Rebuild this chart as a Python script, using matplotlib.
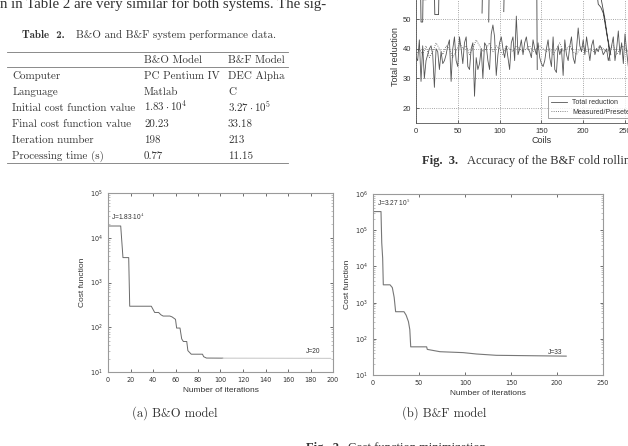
import numpy as np
import matplotlib
matplotlib.use("Agg")
import matplotlib.pyplot as plt
from matplotlib.lines import Line2D
from matplotlib.ticker import LogLocator, NullFormatter

plt.rcParams['mathtext.fontset'] = 'cm'

W, H = 628, 446

# ---------------- data ----------------
# Table 2
table_cols = ["", "B&O Model", "B&F Model"]
table_rows = ["Computer", "Language", "Initial cost function value",
              "Final cost function value", "Iteration number", "Processing time (s)"]
bo_values = ["PC Pentium IV", "Matlab", r"$1.83\cdot10^4$", "20.23", "198", "0.77"]
bf_values = ["DEC Alpha", "C", r"$3.27\cdot10^5$", "33.18", "213", "11.15"]

# Fig. 3 (partially visible) - total reduction per coil (every 2 coils)
total_reduction = [37, 36, 43, 29, 41, 30, 36, 38, 40, 41, 38, 27, 40, 39, 33, 39,
                   35, 36, 38, 41, 43, 29, 40, 44, 36, 34, 44, 40, 35, 42, 44, 34,
                   33, 40, 42, 24, 37, 33, 35, 40, 30, 42, 41, 36, 33, 45, 48, 44,
                   31, 38, 42, 44, 40, 37, 41, 37, 33, 42, 44, 36, 51, 38, 40, 43,
                   38, 42, 44, 40, 39, 37, 43, 40, 38, 42, 37, 35, 34, 36, 40, 43,
                   37, 34, 44, 33, 32, 41, 38, 40, 31, 43, 38, 36, 41, 44, 37, 35,
                   40, 47, 41, 39, 43, 38, 44, 40, 36, 41, 43, 38, 40, 39, 41, 40,
                   38, 39, 40, 36, 38, 41, 44, 36, 40, 46, 38, 42, 35, 45, 39, 34,
                   42]
measured_preset = [38, 40, 38, 41, 37, 39, 42, 40, 38, 41, 40, 37, 39, 42, 40, 41,
                   38, 40, 43, 41, 39, 40, 42, 39, 41, 40, 38, 41, 40, 39, 41, 40,
                   39, 40, 41, 39, 40, 41, 40, 39, 40, 38, 40, 42, 39, 40, 41, 39,
                   38, 40, 41, 39, 40, 39, 40, 41, 40, 39, 40, 41, 38, 40, 41, 39,
                   40]
upper_x = [5.5, 6, 8, 8.5, np.nan, 9.5, 12, np.nan, 22, 22.5, 27, 27.5, np.nan,
           79, 79.5, np.nan, 87, 87.5, np.nan, 105, 105.5, np.nan, 144.5, 145, np.nan,
           216, 218, 221, 224, 227, 230, 232, np.nan, 219, 222, 226, 229, 233]
upper_y = [60, 49, 49, 60, np.nan, 56.5, 56.5, np.nan, 60, 51.5, 51.5, 60, np.nan,
           52, 60, np.nan, 49, 60, np.nan, 52.5, 60, np.nan, 60, 33, np.nan,
           60, 55, 54, 52, 47, 42, 36, np.nan, 60, 56, 50, 44, 38]

# Fig. 2 (a) B&O cost function
bo_iter = [0, 11.3, 13.3, 18.4, 19.3, 38.5, 41.5, 45, 47, 49, 55, 57, 60, 61, 64,
           65.5, 67, 70, 71, 74, 84, 85, 87.5, 102, 198]
bo_cost = [18300, 18300, 3600, 3600, 295, 295, 214, 214, 190, 178, 178, 170, 150,
           96, 96, 55, 48, 48, 30, 25, 25, 22, 20.5, 20.4, 20.2]
# Fig. 2 (b) B&F cost function
bf_iter = [0, 8.7, 9.5, 10.5, 11.2, 18.5, 21, 23, 24.6, 33.7, 36, 38.5, 40, 41,
           58.3, 59, 72.8, 98, 112.6, 134, 210]
bf_cost = [327000, 327000, 45000, 17000, 3100, 3100, 2600, 1400, 560, 560, 450,
           300, 180, 60, 60, 51, 44, 41.5, 38, 35, 33.2]


def px(x, y):
    return x / W, 1 - y / H


def rect(l, t, r, b):
    return [l / W, 1 - b / H, (r - l) / W, (b - t) / H]


fig = plt.figure(figsize=(W / 100, H / 100), dpi=100)
fig.patch.set_facecolor('white')

txtc = '#333333'
tfs = 7.9

# ---------------- page text ----------------
fig.text(*px(0, 8), "n in Table 2 are very similar for both systems. The sig-",
         family='Liberation Serif', fontsize=10.7, color=txtc, va='baseline', ha='left')

fig.text(*px(22, 38), "Table  2.", family='cmb10', fontsize=tfs, color=txtc,
         va='baseline')
fig.text(*px(76, 38), "B&O and B&F system performance data.", family='cmr10',
         fontsize=tfs, color=txtc, va='baseline')

for yy in (52, 67, 163):
    fig.add_artist(Line2D([7 / W, 288 / W], [1 - yy / H, 1 - yy / H],
                          color='#777777', lw=0.6))

col_x = [12.5, 144, 228]
fig.text(*px(col_x[1], 63), table_cols[1], family='cmr10', fontsize=tfs, color=txtc, va='baseline')
fig.text(*px(col_x[2], 63), table_cols[2], family='cmr10', fontsize=tfs, color=txtc, va='baseline')
row_y = [79, 95, 111, 127, 143, 159]
for i, lab in enumerate(table_rows):
    fig.text(*px(col_x[0], row_y[i]), lab, family='cmr10', fontsize=tfs, color=txtc, va='baseline')
    fig.text(*px(col_x[1], row_y[i]), bo_values[i], family='cmr10', fontsize=tfs, color=txtc, va='baseline')
    fig.text(*px(col_x[2], row_y[i]), bf_values[i], family='cmr10', fontsize=tfs, color=txtc, va='baseline')

# ---------------- Fig. 3 (partial) ----------------
ax3 = fig.add_axes(rect(416, 123 - 45 * 2.97, 416 + 300 * 0.836, 123))
coils = np.arange(len(total_reduction)) * 2
coils_m = np.arange(len(measured_preset)) * 4
ax3.plot(coils, total_reduction, color='#555555', lw=0.6, label='Total reduction')
ax3.plot(coils_m, measured_preset, color='#555555', lw=0.6, ls=':', label='Measured/Preseted')
ax3.plot(upper_x, upper_y, color='#444444', lw=0.6)
ax3.set_xlim(0, 300)
ax3.set_ylim(15, 60)
ax3.set_xticks([0, 50, 100, 150, 200, 250, 300])
ax3.set_yticks([20, 30, 40, 50, 60])
ax3.grid(True, ls=':', color='#888888', lw=0.6)
ax3.tick_params(labelsize=5.5, colors=txtc, length=2, width=0.5, direction='in')
for s in ax3.spines.values():
    s.set_color('#555555'); s.set_linewidth(0.6)
ax3.set_xlabel("Coils", fontsize=6.5, color=txtc, family='Liberation Sans', labelpad=1)
ax3.set_ylabel("Total reduction", fontsize=6.5, color=txtc, family='Liberation Sans', labelpad=2)
for t in ax3.get_xticklabels() + ax3.get_yticklabels():
    t.set_family('Liberation Sans')
leg = ax3.legend(loc='upper left', bbox_to_anchor=px(545, 93), bbox_transform=fig.transFigure,
                 fontsize=5, frameon=True, fancybox=False, edgecolor='#777777',
                 handlelength=2.2, borderpad=0.4, labelspacing=0.35,
                 prop={'family': 'Liberation Sans', 'size': 5})
leg.get_frame().set_linewidth(0.6)
for t in leg.get_texts():
    t.set_color(txtc)

fig.text(*px(422, 164), "Fig.  3.", family='Liberation Serif', fontweight='bold',
         fontsize=9, color=txtc, va='baseline')
fig.text(*px(467, 164), "Accuracy of the B&F cold rolling model", family='Liberation Serif',
         fontsize=9, color=txtc, va='baseline')

# ---------------- Fig. 2 subplots ----------------
linec = '#777777'
spc = '#9a9a9a'


def style_cost_axis(ax, xmax, xticks, ymax):
    ax.set_yscale('log')
    ax.set_xlim(0, xmax)
    ax.set_ylim(10, ymax)
    ax.set_xticks(xticks)
    ax.yaxis.set_major_locator(LogLocator(base=10, numticks=10))
    ax.yaxis.set_minor_locator(LogLocator(base=10, subs=np.arange(2, 10), numticks=20))
    ax.yaxis.set_minor_formatter(NullFormatter())
    ax.tick_params(which='both', direction='in', top=True, right=True,
                   labelsize=4.7, colors=txtc, width=0.5)
    ax.tick_params(which='major', length=2.5)
    ax.tick_params(which='minor', length=1.2, color='#aaaaaa')
    for s in ax.spines.values():
        s.set_color(spc); s.set_linewidth(0.8)
    ax.set_xlabel("Number of iterations", fontsize=6, color=txtc, family='Liberation Sans', labelpad=3)
    ax.set_ylabel("Cost function", fontsize=6, color=txtc, family='Liberation Sans', labelpad=3)


axa = fig.add_axes(rect(108, 193, 333, 372))
bo_i = np.array(bo_iter); bo_c = np.array(bo_cost)
k = list(bo_iter).index(102)
axa.plot(bo_i[:k + 1], bo_c[:k + 1], color='#6a6a6a', lw=0.7)
axa.plot(bo_i[k:], bo_c[k:], color='#c4c4c4', lw=0.7)
style_cost_axis(axa, 200, np.arange(0, 201, 20), 1e5)
axa.text(3, 2.5e4, r"J=1.83$\cdot$10$^4$", fontsize=4.8, color=txtc, family='Liberation Sans')
axa.text(176, 26, "J=20", fontsize=4.8, color=txtc, family='Liberation Sans')

axb = fig.add_axes(rect(373, 194, 603, 375))
axb.plot(bf_iter, bf_cost, color=linec, lw=0.8)
style_cost_axis(axb, 250, np.arange(0, 251, 50), 1e6)
axb.text(4, 4.6e5, r"J=3.27 10$^5$", fontsize=4.8, color=txtc, family='Liberation Sans')
axb.text(190, 37, "J=33", fontsize=4.8, color=txtc, family='Liberation Sans')

fig.text(*px(175, 417), "(a) B&O model", family='cmr10', fontsize=9, color=txtc,
         ha='center', va='baseline')
fig.text(*px(444, 417), "(b) B&F model", family='cmr10', fontsize=9, color=txtc,
         ha='center', va='baseline')
fig.text(*px(342, 451), "Fig.  2.", family='Liberation Serif', fontweight='bold',
         fontsize=9, color=txtc, ha='right', va='baseline')
fig.text(*px(348, 451), "Cost function minimization", family='Liberation Serif',
         fontsize=9, color=txtc, ha='left', va='baseline')

fig.savefig("out.png", dpi=100, facecolor='white')
